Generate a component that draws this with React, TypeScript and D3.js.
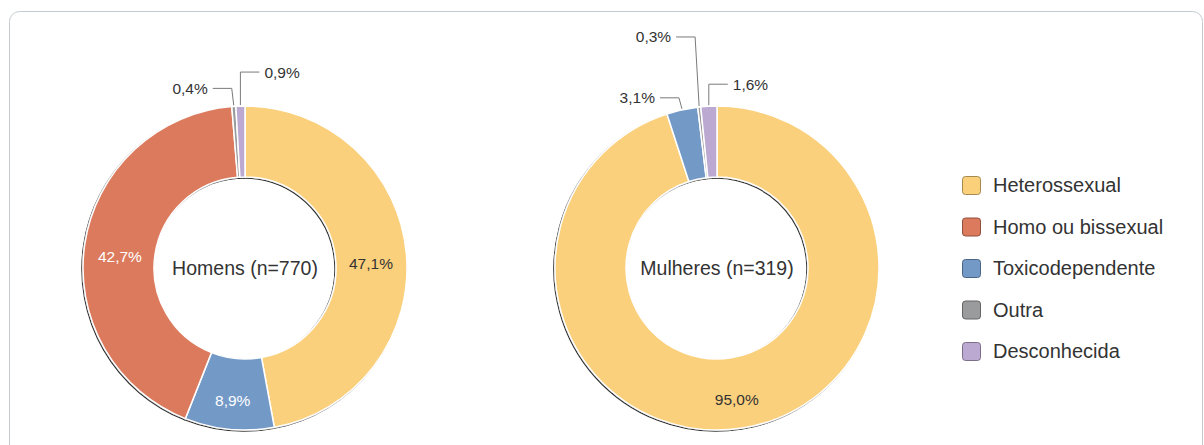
import React from "react";
import * as d3 from "d3";

const categories = [
  "Heterossexual",
  "Homo ou bissexual",
  "Toxicodependente",
  "Outra",
  "Desconhecida",
];
const homensValues = [47.1, 42.7, 8.9, 0.4, 0.9];
const mulheresValues = [95.0, 0, 3.1, 0.3, 1.6];
const homensTitle = "Homens (n=770)";
const mulheresTitle = "Mulheres (n=319)";

// order the slices run clockwise from 12 o'clock
const sliceOrder = [0, 2, 1, 3, 4];

const colors = ["#fbd07b", "#dc7a5d", "#7399c7", "#9a9b9d", "#bca9d1"];
const labelColors = ["#333", "#fff", "#fff", "#333", "#333"];

// leader-line layout for the small slices (rise above the rim, elbow shift, side)
const leaderLayout: Record<string, Record<number, { rise: number; dx: number; side: number }>> = {
  homens: {
    3: { rise: 17, dx: -2, side: -1 },
    4: { rise: 33, dx: 0, side: 1 },
  },
  mulheres: {
    2: { rise: 11, dx: -3, side: -1 },
    3: { rise: 69, dx: -4, side: -1 },
    4: { rise: 21, dx: 0, side: 1 },
  },
};

const W = 1204;
const H = 445;
const outerR = 162;
const innerR = 91;
const cy = 268;
const fmt = (v: number) => v.toFixed(1).replace(".", ",") + "%";
const font = "'Liberation Sans', Arial, sans-serif";

const colorScale = d3.scaleOrdinal<number, string>().domain(d3.range(5)).range(colors);

type DonutProps = { id: string; cx: number; values: number[]; title: string };

const Donut = ({ id, cx, values, title }: DonutProps) => {
  const pie = d3
    .pie<number>()
    .sort(null)
    .value((i) => values[i])
    .startAngle(0)
    .endAngle(2 * Math.PI);
  const arcs = pie(sliceOrder).filter((a) => values[a.data] > 0);
  const arc = d3.arc<d3.PieArcDatum<number>>().innerRadius(innerR).outerRadius(outerR);
  const labelArc = d3
    .arc<d3.PieArcDatum<number>>()
    .innerRadius((innerR + outerR) / 2)
    .outerRadius((innerR + outerR) / 2);
  const layout = leaderLayout[id];

  return (
    <g transform={`translate(${cx},${cy})`}>
      <g filter="url(#shadow)">
        {arcs.map((a) => (
          <path key={a.data} d={arc(a) || ""} fill={colorScale(a.data)} stroke="#fff" strokeWidth={1.5} />
        ))}
      </g>
      {arcs.map((a) => {
        const v = values[a.data];
        const lay = layout[a.data];
        if (lay) {
          const mid = (a.startAngle + a.endAngle) / 2;
          const sx = Math.sin(mid) * (outerR + 1);
          const sy = -Math.cos(mid) * (outerR + 1);
          const ex = sx + lay.dx;
          const ey = sy - lay.rise;
          const hx = ex + lay.side * 19;
          return (
            <g key={"l" + a.data}>
              <polyline
                points={`${sx},${sy} ${ex},${ey} ${hx},${ey}`}
                fill="none"
                stroke="#7a7a7a"
                strokeWidth={1}
              />
              <text
                x={hx + lay.side * 5}
                y={ey}
                dy="0.35em"
                textAnchor={lay.side < 0 ? "end" : "start"}
                fontSize={15.5}
                fill="#333"
              >
                {fmt(v)}
              </text>
            </g>
          );
        }
        const [lx, ly] = labelArc.centroid(a);
        return (
          <text
            key={"t" + a.data}
            x={lx}
            y={ly + 7}
            dy="0.35em"
            textAnchor="middle"
            fontSize={15.5}
            fill={labelColors[a.data]}
          >
            {fmt(v)}
          </text>
        );
      })}
      <text x={0} y={0} dy="0.35em" textAnchor="middle" fontSize={19.5} fill="#333">
        {title}
      </text>
    </g>
  );
};

export default function App() {
  const legendY = d3.scalePoint<string>().domain(categories).range([185, 351]);
  return (
    <div style={{ position: "fixed", left: 0, top: 0 }}>
      <svg width={W} height={H} style={{ display: "block", fontFamily: font }}>
        <defs>
          <filter id="shadow" x="-10%" y="-10%" width="120%" height="120%">
            <feDropShadow dx={-1} dy={1} stdDeviation={0.5} floodColor="#000" floodOpacity={0.8} />
          </filter>
        </defs>
        <rect x={0} y={0} width={W} height={H} fill="#fff" />
        <rect x={9.5} y={11.5} width={1193} height={480} rx={10} fill="none" stroke="#c3cbd0" />
        <Donut id="homens" cx={245} values={homensValues} title={homensTitle} />
        <Donut id="mulheres" cx={717} values={mulheresValues} title={mulheresTitle} />
        <g>
          {categories.map((c, i) => (
            <g key={c} transform={`translate(962,${legendY(c)})`}>
              <rect
                x={0.5}
                y={-8.5}
                width={18}
                height={18}
                rx={3}
                fill={colors[i]}
                stroke={d3.color(colors[i])!.darker(1.2).formatHex()}
                strokeWidth={1}
              />
              <text x={31} y={0} dy="0.35em" fontSize={20} fill="#333">
                {c}
              </text>
            </g>
          ))}
        </g>
      </svg>
    </div>
  );
}
